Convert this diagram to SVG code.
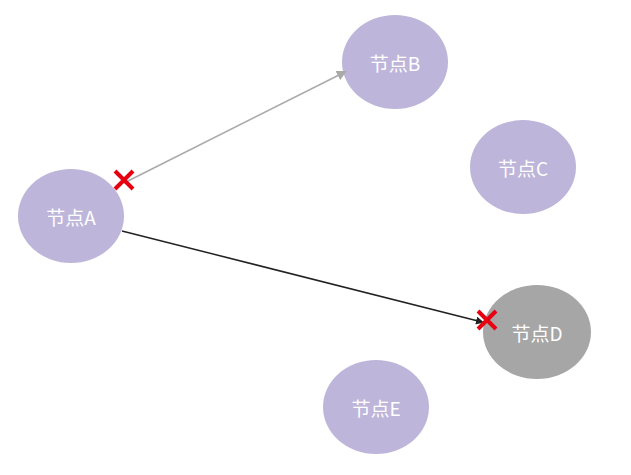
<svg xmlns="http://www.w3.org/2000/svg" width="631" height="475" viewBox="0 0 631 475">
<style>
.n{fill:#beb5da}.d{fill:#a6a6a6}
text{font-family:"Noto Sans CJK SC",sans-serif;font-size:19px;fill:#fff;text-anchor:middle;dominant-baseline:central}
.x{stroke:#e60012;stroke-width:4;fill:none}
</style>
<defs>
<marker id="ag" markerWidth="10" markerHeight="10" refX="8" refY="5" orient="auto" markerUnits="userSpaceOnUse"><path d="M0,0L10,5L0,10z" fill="#aaa"/></marker>
<marker id="ab" markerWidth="8" markerHeight="8" refX="6" refY="4" orient="auto" markerUnits="userSpaceOnUse"><path d="M0,0L8,4L0,8z" fill="#222"/></marker>
</defs>
<g id="A"><ellipse class="n" cx="71" cy="216" rx="53" ry="47"/><text x="71" y="216">节点A</text></g>
<g id="B"><ellipse class="n" cx="395" cy="62" rx="53" ry="47"/><text x="395" y="62">节点B</text></g>
<g id="C"><ellipse class="n" cx="523" cy="167" rx="53" ry="47"/><text x="523" y="167">节点C</text></g>
<g id="D"><ellipse class="d" cx="537" cy="332" rx="54" ry="47"/><text x="537" y="332">节点D</text></g>
<g id="E"><ellipse class="n" cx="376" cy="407" rx="53" ry="47"/><text x="376" y="407">节点E</text></g>
<g id="edges">
<line x1="124" y1="183" x2="345" y2="72" stroke="#aaa" stroke-width="1.5" marker-end="url(#ag)"/>
<line x1="122" y1="231" x2="482" y2="322" stroke="#222" stroke-width="1.5" marker-end="url(#ab)"/>
<path class="x" d="M115,171L133,189M133,171L115,189"/>
<path class="x" d="M478,311L496,329M496,311L478,329"/>
</g>
</svg>
